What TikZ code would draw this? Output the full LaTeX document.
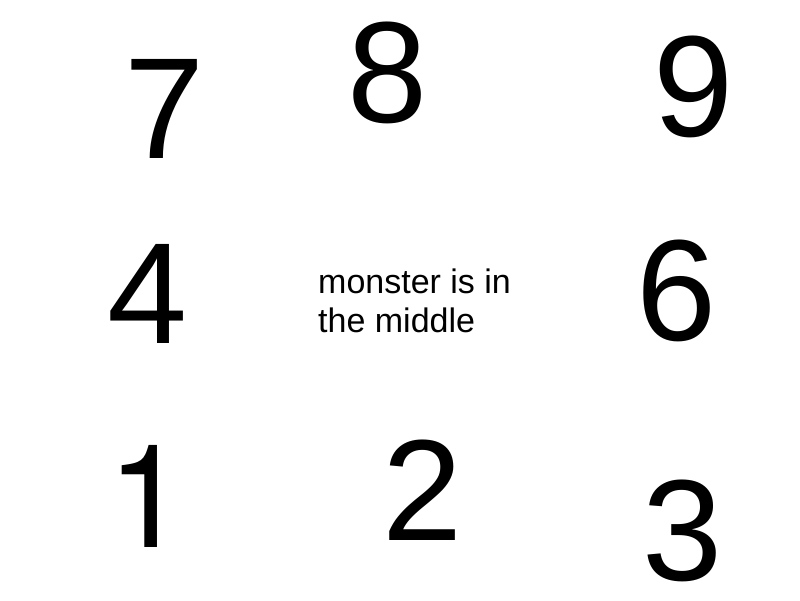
\documentclass[tikz,border=0pt]{standalone}
\usepackage{fontspec}
\setmainfont{Liberation Sans}
\newfontfamily\herosfont{TeX Gyre Heros}
\usepackage{tikz}
\usetikzlibrary{positioning}

\begin{document}
\begin{tikzpicture}[x=1pt,y=-1pt,line join=round,
  digit/.style={anchor=base,inner sep=0pt,text depth=0pt,font=\fontsize{144}{144}\selectfont},
  note/.style={anchor=base west,inner sep=0pt,align=left,font=\fontsize{34}{39}\selectfont}]
\useasboundingbox[fill=white] (0,0) rectangle (800,600);
% top row
\node[digit] (seven) at (165,158) {7};
\node[digit] (eight) at (387.5,122) {8};
\node[digit] (nine) at (694,136) {9};
% middle row
\node[digit] (four) at (147.5,343) {4};
\node[note] (monster) at (318,332) {monster is in\\the middle};
\node[digit] (six) at (677,340) {6};
% bottom row
\node[digit] (one) at (148,547) {\herosfont 1};
\node[digit] (two) at (423,540) {2};
\node[digit] (three) at (682.5,580) {3};
\end{tikzpicture}
\end{document}
